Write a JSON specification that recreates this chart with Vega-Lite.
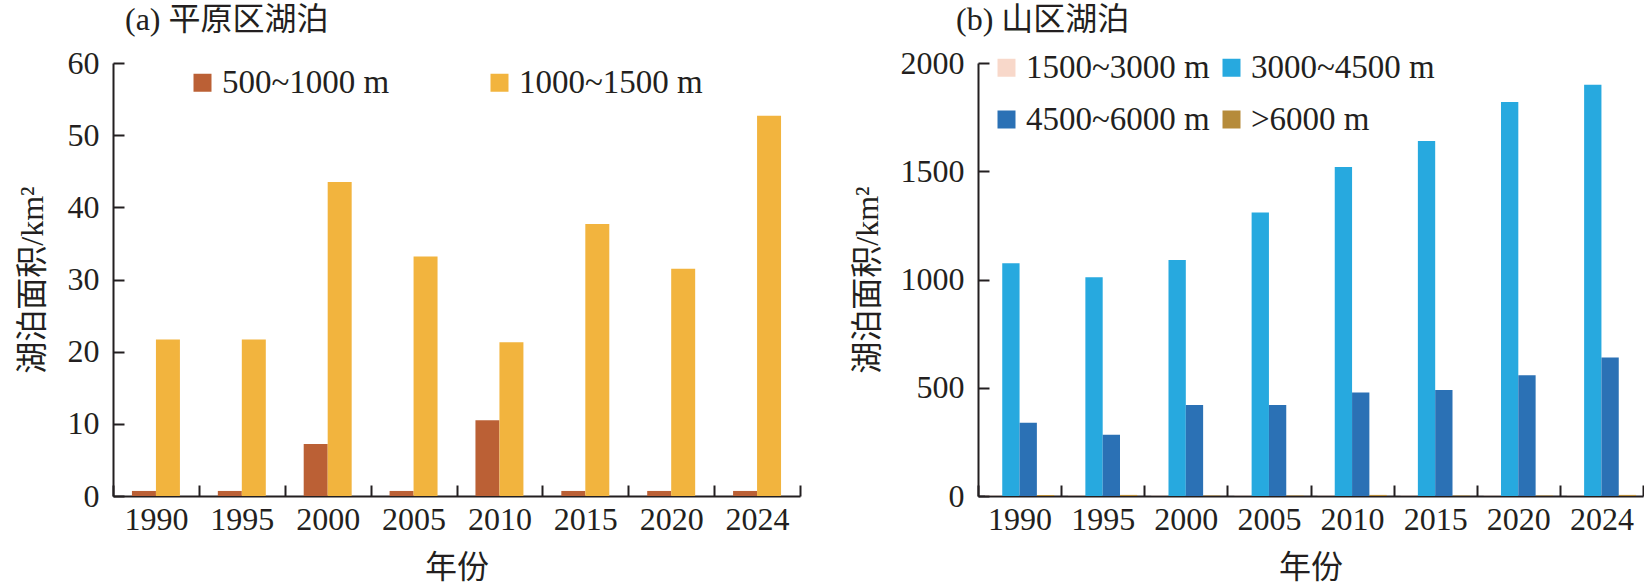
{
  "$schema": "https://vega.github.io/schema/vega-lite/v6.json",
  "padding": {"left": 16, "top": 4, "right": 0, "bottom": 0},
  "spacing": 50,
  "datasets": {
    "plain": [
      {"year": "1990", "range": "500~1000 m", "area": 0.7},
      {"year": "1990", "range": "1000~1500 m", "area": 21.7},
      {"year": "1995", "range": "500~1000 m", "area": 0.7},
      {"year": "1995", "range": "1000~1500 m", "area": 21.7},
      {"year": "2000", "range": "500~1000 m", "area": 7.2},
      {"year": "2000", "range": "1000~1500 m", "area": 43.5},
      {"year": "2005", "range": "500~1000 m", "area": 0.7},
      {"year": "2005", "range": "1000~1500 m", "area": 33.2},
      {"year": "2010", "range": "500~1000 m", "area": 10.5},
      {"year": "2010", "range": "1000~1500 m", "area": 21.3},
      {"year": "2015", "range": "500~1000 m", "area": 0.7},
      {"year": "2015", "range": "1000~1500 m", "area": 37.7},
      {"year": "2020", "range": "500~1000 m", "area": 0.7},
      {"year": "2020", "range": "1000~1500 m", "area": 31.5},
      {"year": "2024", "range": "500~1000 m", "area": 0.7},
      {"year": "2024", "range": "1000~1500 m", "area": 52.7}
    ],
    "mountain": [
      {"year": "1990", "range": "1500~3000 m", "area": 1},
      {"year": "1990", "range": "3000~4500 m", "area": 1075},
      {"year": "1990", "range": "4500~6000 m", "area": 338},
      {"year": "1990", "range": ">6000 m", "area": 5},
      {"year": "1995", "range": "1500~3000 m", "area": 1},
      {"year": "1995", "range": "3000~4500 m", "area": 1010},
      {"year": "1995", "range": "4500~6000 m", "area": 283},
      {"year": "1995", "range": ">6000 m", "area": 5},
      {"year": "2000", "range": "1500~3000 m", "area": 1},
      {"year": "2000", "range": "3000~4500 m", "area": 1090},
      {"year": "2000", "range": "4500~6000 m", "area": 420},
      {"year": "2000", "range": ">6000 m", "area": 2},
      {"year": "2005", "range": "1500~3000 m", "area": 1},
      {"year": "2005", "range": "3000~4500 m", "area": 1310},
      {"year": "2005", "range": "4500~6000 m", "area": 420},
      {"year": "2005", "range": ">6000 m", "area": 2},
      {"year": "2010", "range": "1500~3000 m", "area": 1},
      {"year": "2010", "range": "3000~4500 m", "area": 1520},
      {"year": "2010", "range": "4500~6000 m", "area": 478},
      {"year": "2010", "range": ">6000 m", "area": 5},
      {"year": "2015", "range": "1500~3000 m", "area": 1},
      {"year": "2015", "range": "3000~4500 m", "area": 1640},
      {"year": "2015", "range": "4500~6000 m", "area": 490},
      {"year": "2015", "range": ">6000 m", "area": 2},
      {"year": "2020", "range": "1500~3000 m", "area": 1},
      {"year": "2020", "range": "3000~4500 m", "area": 1820},
      {"year": "2020", "range": "4500~6000 m", "area": 558},
      {"year": "2020", "range": ">6000 m", "area": 2},
      {"year": "2024", "range": "1500~3000 m", "area": 1},
      {"year": "2024", "range": "3000~4500 m", "area": 1900},
      {"year": "2024", "range": "4500~6000 m", "area": 640},
      {"year": "2024", "range": ">6000 m", "area": 5}
    ]
  },
  "resolve": {
    "scale": {"color": "independent", "xOffset": "independent", "x": "independent", "y": "independent"},
    "legend": {"color": "independent"}
  },
  "hconcat": [
    {
      "data": {"name": "plain"},
      "width": 687,
      "height": 433,
      "title": {"text": "(a) 平原区湖泊", "anchor": "start", "frame": "group", "dx": 12, "offset": 10},
      "mark": {"type": "bar"},
      "encoding": {
        "x": {"field": "year", "type": "nominal", "title": "年份",
              "scale": {"paddingInner": 0, "paddingOuter": 0}},
        "xOffset": {"field": "range", "type": "nominal",
                    "scale": {"domain": ["500~1000 m", "1000~1500 m"], "paddingInner": 0, "paddingOuter": 0.79}},
        "y": {"field": "area", "type": "quantitative", "title": "湖泊面积/km²",
              "scale": {"domain": [0, 60], "nice": false},
              "axis": {"values": [0, 10, 20, 30, 40, 50, 60], "format": "d"}},
        "color": {
          "field": "range", "type": "nominal",
          "scale": {"domain": ["500~1000 m", "1000~1500 m"], "range": ["#bb6035", "#f2b43e"]},
          "legend": {"orient": "none", "direction": "horizontal", "legendX": 73, "legendY": 3, "columns": 2, "columnPadding": 93, "title": null}
        }
      }
    },
    {
      "data": {"name": "mountain"},
      "width": 665,
      "height": 433,
      "title": {"text": "(b) 山区湖泊", "anchor": "start", "frame": "group", "dx": -22, "offset": 10},
      "mark": {"type": "bar"},
      "encoding": {
        "x": {"field": "year", "type": "nominal", "title": "年份",
              "scale": {"paddingInner": 0, "paddingOuter": 0}},
        "xOffset": {"field": "range", "type": "nominal",
                    "scale": {"domain": ["1500~3000 m", "3000~4500 m", "4500~6000 m", ">6000 m"], "paddingInner": 0, "paddingOuter": 0.4}},
        "y": {"field": "area", "type": "quantitative", "title": "湖泊面积/km²",
              "scale": {"domain": [0, 2000], "nice": false},
              "axis": {"values": [0, 500, 1000, 1500, 2000], "format": "d", "titlePadding": 16}},
        "color": {
          "field": "range", "type": "nominal",
          "scale": {"domain": ["1500~3000 m", "3000~4500 m", "4500~6000 m", ">6000 m"],
                    "range": ["#f8d8ca", "#27a9df", "#2b71b5", "#b68b3a"]},
          "legend": {"orient": "none", "direction": "horizontal", "legendX": 12, "legendY": -12, "columns": 2, "columnPadding": 5, "rowPadding": 18, "title": null}
        }
      }
    }
  ],
  "config": {
    "font": "Liberation Serif, Noto Sans CJK SC",
    "view": {"stroke": null},
    "title": {"fontSize": 32, "fontWeight": "normal", "color": "#231f20", "font": "Liberation Serif, Noto Sans CJK SC"},
    "axis": {
      "labelFontSize": 32, "titleFontSize": 32, "titleFontWeight": "normal",
      "labelColor": "#231f20", "titleColor": "#231f20",
      "labelFont": "Liberation Serif", "titleFont": "Liberation Serif, Noto Sans CJK SC",
      "domainColor": "#231f20", "tickColor": "#231f20",
      "domainWidth": 2, "tickWidth": 2, "tickSize": -11, "grid": false
    },
    "axisX": {"labelAngle": 0, "tickBand": "extent", "labelPadding": 19, "titlePadding": 17},
    "axisY": {"labelPadding": 25, "titlePadding": 18},
    "legend": {
      "labelFontSize": 33, "labelFont": "Liberation Serif", "labelColor": "#231f20", "labelLimit": 0,
      "symbolType": "square", "symbolSize": 324, "symbolStrokeWidth": 0, "symbolOpacity": 1,
      "padding": 0, "labelOffset": 3
    }
  }
}
